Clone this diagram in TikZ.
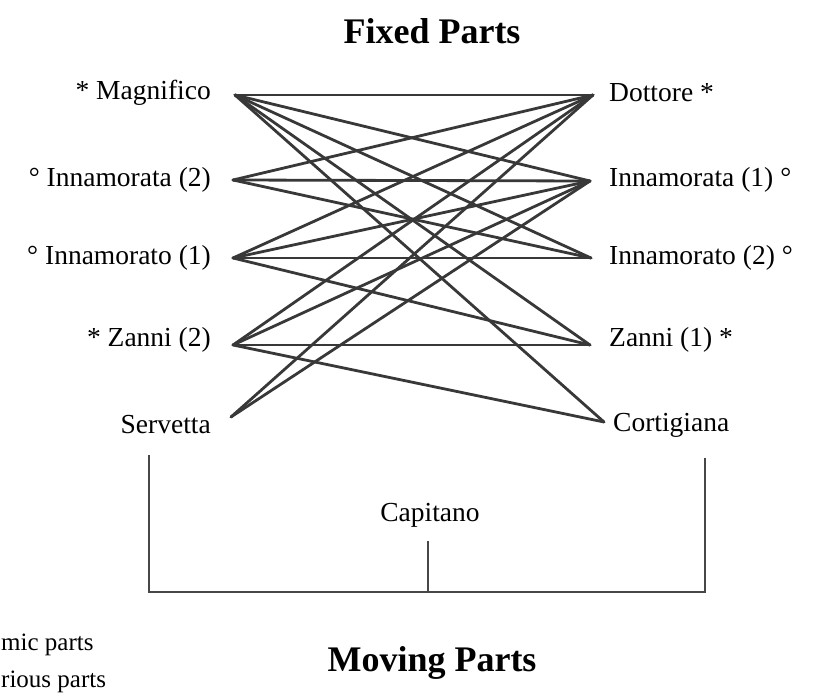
\documentclass[tikz,border=0pt]{standalone}
\usepackage{fontspec}
\setmainfont{Liberation Serif}
\begin{document}
\begin{tikzpicture}[x=1pt,y=-1pt,
  lbl/.style={inner sep=0pt,font=\fontsize{27.5}{32}\selectfont},
  title/.style={inner sep=0pt,font=\fontsize{36}{42}\selectfont\bfseries},
  note/.style={inner sep=0pt,font=\fontsize{25}{30}\selectfont,anchor=west},
  link/.style={draw=black!78,line width=2.8pt,line cap=round},
  bracket/.style={draw=black!72,line width=2.8pt}]
\useasboundingbox (0,0) rectangle (819,698);
% titles
\node[title] (fixed) at (432,31) {Fixed Parts};
\node[title] (moving) at (432,663) {Moving Parts};
% left labels
\node[lbl,anchor=east] (tl1) at (211,93) {* Magnifico};
\node[lbl,anchor=east] (tl2) at (211,180) {° Innamorata (2)};
\node[lbl,anchor=east] (tl3) at (211,258) {° Innamorato (1)};
\node[lbl,anchor=east] (tl4) at (211,340) {* Zanni (2)};
\node[lbl,anchor=east] (tl5) at (211,425) {Servetta};
% right labels
\node[lbl,anchor=west] (tr1) at (609,93) {Dottore *};
\node[lbl,anchor=west] (tr2) at (609,180) {Innamorata (1) °};
\node[lbl,anchor=west] (tr3) at (609,258) {Innamorato (2) °};
\node[lbl,anchor=west] (tr4) at (609,340) {Zanni (1) *};
\node[lbl,anchor=west] (tr5) at (613,425) {Cortigiana};
\node[lbl] (cap) at (430,515) {Capitano};
% legend (as printed, cut at the left edge)
\node[note] (n1) at (1,645) {mic parts};
\node[note] (n2) at (1,682) {rious parts};
% endpoints
\coordinate (L1) at (235,95);
\coordinate (L2) at (233,180);
\coordinate (L3) at (233,258);
\coordinate (L4) at (233,345);
\coordinate (L5) at (231,417);
\coordinate (R1) at (593,95);
\coordinate (R2) at (590,181);
\coordinate (R3) at (591,258);
\coordinate (R4) at (590,345);
\coordinate (R5) at (604,422);
% connections
\foreach \r in {R1,R2,R3,R4,R5} \draw[link] (L1) -- (\r);
\foreach \r in {R1,R2,R3} \draw[link] (L2) -- (\r);
\foreach \r in {R1,R2,R3,R4} \draw[link] (L3) -- (\r);
\foreach \r in {R1,R2,R4,R5} \draw[link] (L4) -- (\r);
\foreach \r in {R1,R2} \draw[link] (L5) -- (\r);
% bracket
\coordinate (bl) at (149,455);
\coordinate (br) at (705,458);
\coordinate (bbl) at (149,592);
\coordinate (bbr) at (705,592);
\coordinate (mt) at (428,541);
\coordinate (mb) at (428,592);
\draw[bracket] (bl) -- (bbl) -- (bbr) -- (br);
\draw[bracket] (mt) -- (mb);
\end{tikzpicture}
\end{document}
